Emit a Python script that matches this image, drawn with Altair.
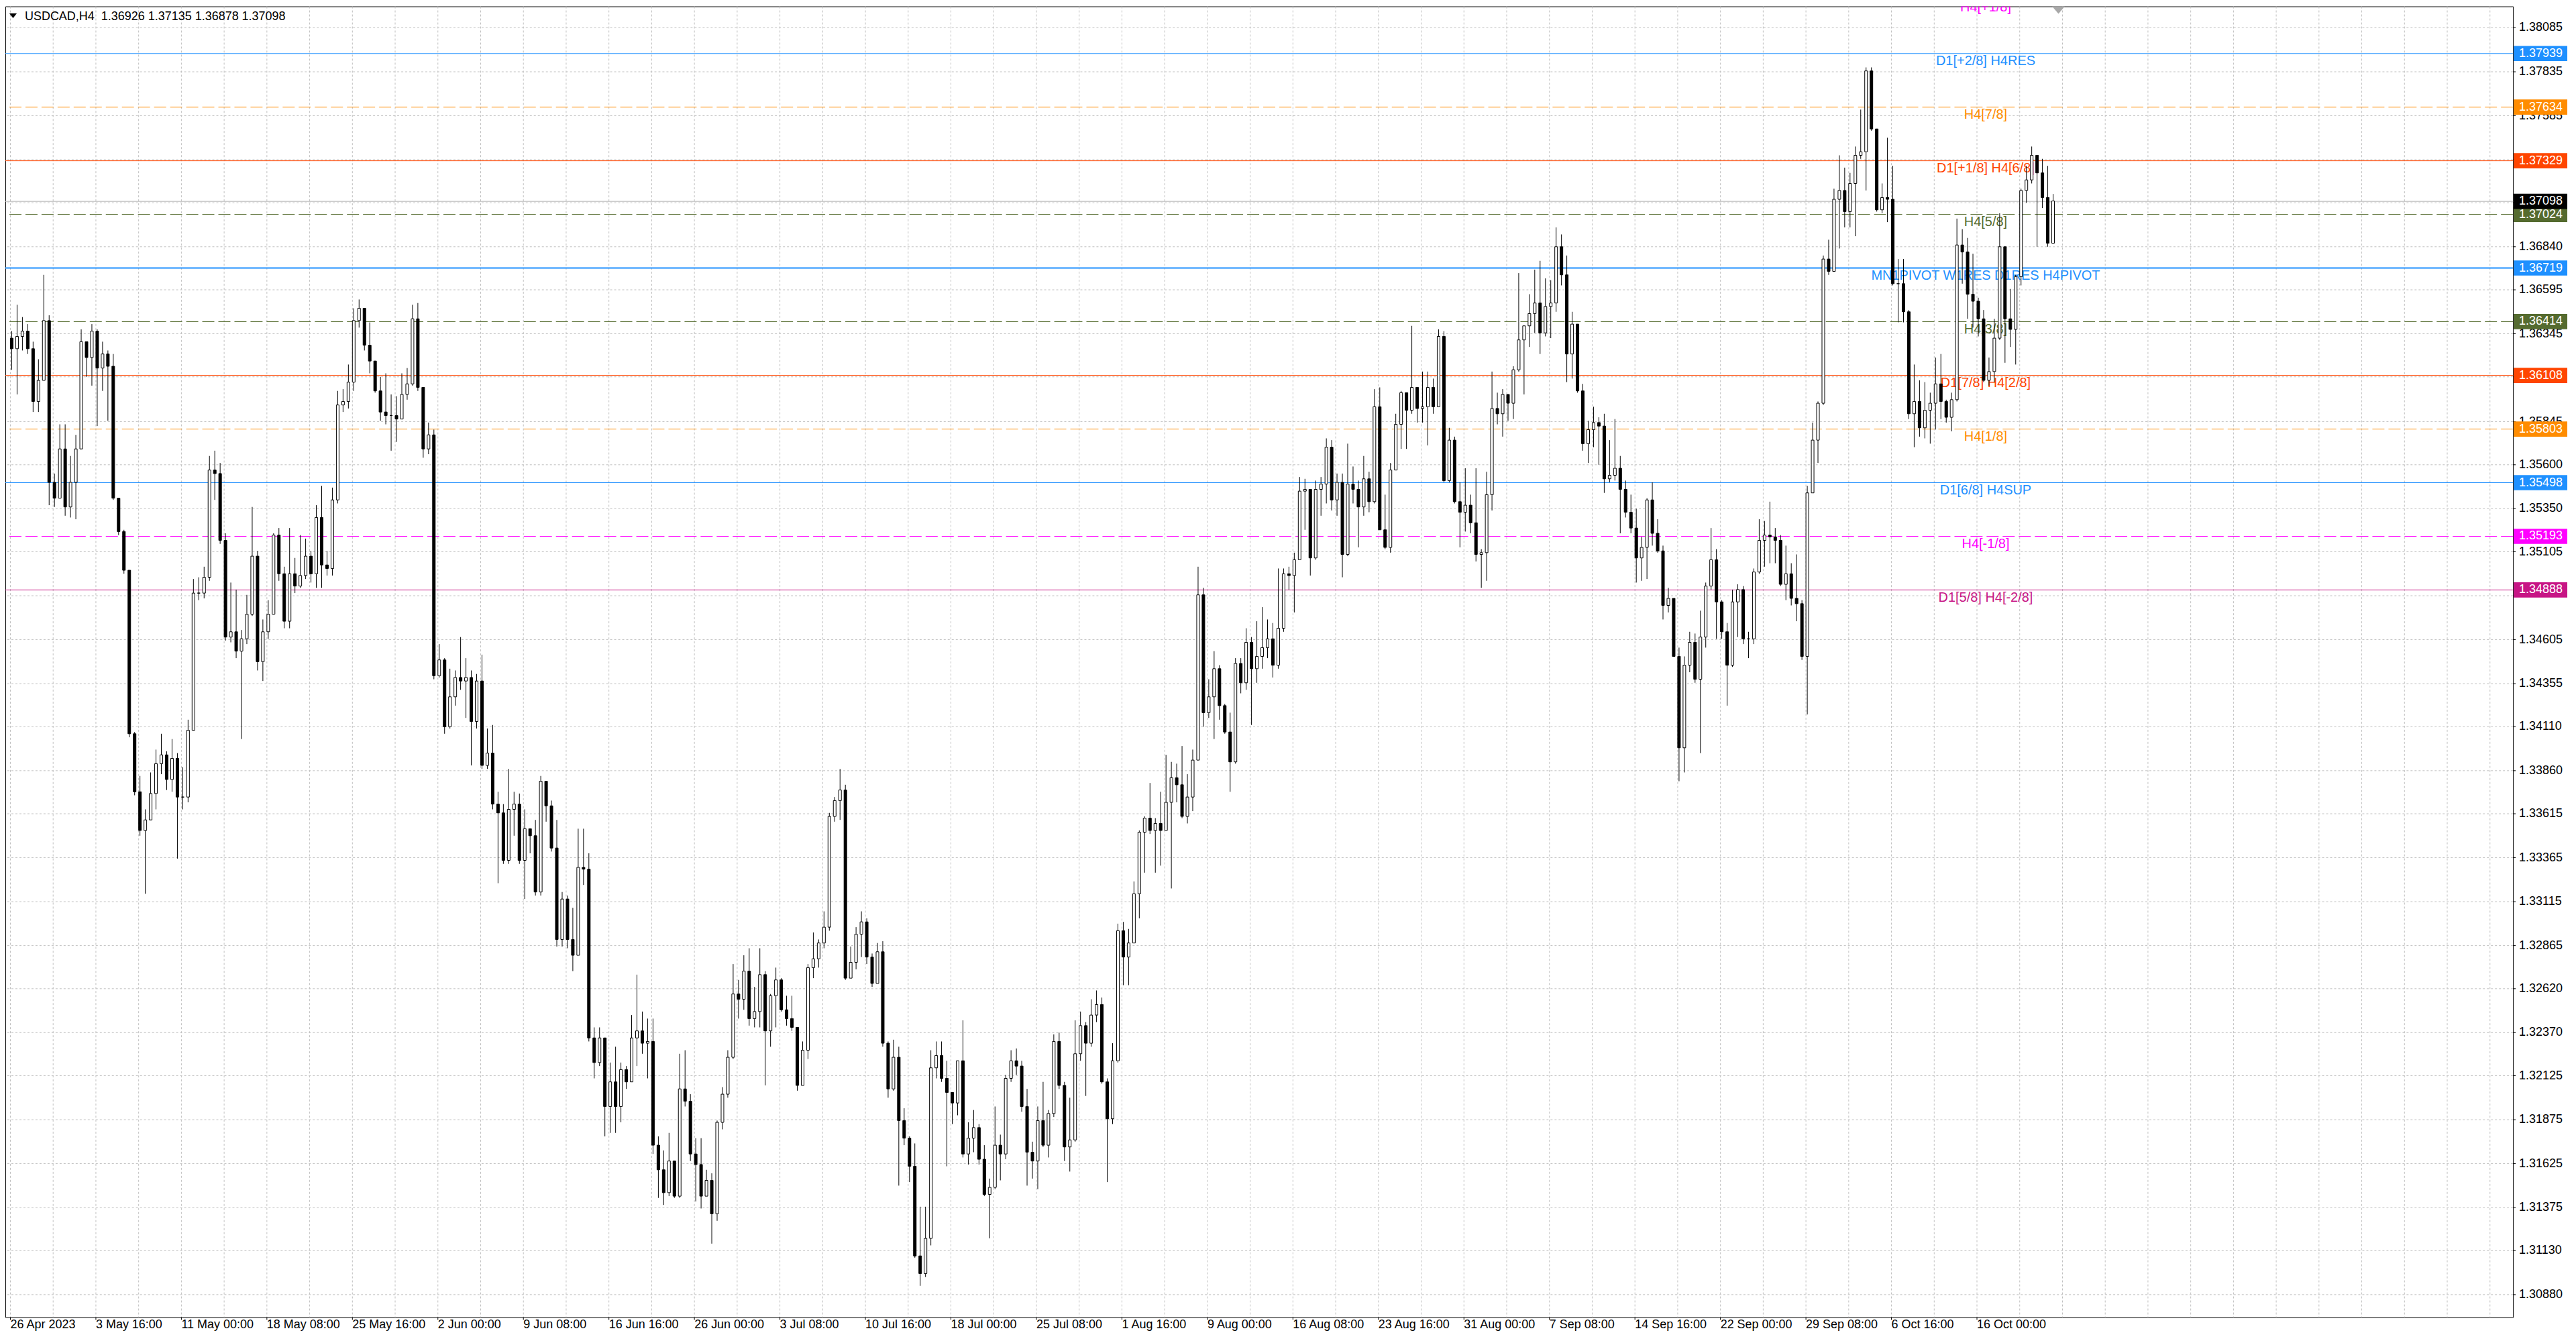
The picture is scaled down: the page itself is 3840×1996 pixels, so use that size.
import altair as alt
import numpy as np
import pandas as pd

# USDCAD H4, 26 Apr - 20 Oct 2023.
# one candle here = two H4 bars (8h); prices in pips above 1.30000
close_pips = [
    626, 633, 636, 626, 596, 608, 642, 550, 541, 569,
    536, 550, 569, 630, 621, 636, 615, 623, 616, 541,
    522, 500, 407, 374, 352, 358, 373, 390, 395, 381,
    393, 371, 371, 409, 487, 487, 496, 557, 555, 517,
    462, 465, 454, 461, 475, 508, 448, 465, 475, 520,
    498, 471, 498, 491, 497, 508, 498, 530, 503, 501,
    540, 594, 596, 607, 642, 649, 628, 619, 602, 590,
    588, 588, 586, 600, 606, 643, 604, 569, 577, 440,
    449, 411, 428, 439, 437, 439, 414, 437, 389, 396,
    367, 362, 335, 364, 367, 335, 353, 349, 317, 380,
    366, 342, 290, 313, 290, 281, 331, 330, 234, 220,
    234, 195, 209, 195, 216, 209, 234, 238, 231, 232,
    173, 159, 146, 164, 144, 205, 198, 168, 162, 144,
    153, 134, 186, 202, 223, 259, 256, 272, 245, 249,
    270, 238, 258, 267, 250, 245, 240, 207, 227, 274,
    279, 288, 297, 360, 369, 375, 268, 277, 293, 300,
    280, 265, 283, 231, 205, 223, 187, 177, 161, 110,
    100, 120, 217, 224, 211, 203, 197, 221, 168, 177,
    183, 165, 145, 149, 173, 168, 211, 221, 218, 195,
    169, 164, 187, 173, 191, 232, 207, 172, 176, 225,
    241, 231, 247, 253, 209, 188, 221, 295, 280, 288,
    316, 351, 359, 352, 356, 352, 368, 382, 378, 360,
    371, 392, 486, 419, 428, 444, 423, 408, 391, 447,
    436, 459, 444, 451, 456, 461, 446, 467, 498, 497,
    506, 545, 546, 507, 546, 549, 570, 540, 550, 509,
    549, 546, 536, 552, 539, 593, 523, 513, 557, 583,
    601, 591, 604, 592, 593, 604, 593, 633, 551, 574,
    539, 533, 537, 527, 509, 510, 543, 592, 589, 600,
    595, 614, 631, 639, 646, 652, 635, 650, 652, 684,
    668, 623, 640, 602, 572, 580, 584, 582, 552, 554,
    558, 546, 533, 524, 507, 513, 540, 521, 511, 480,
    484, 451, 399, 446, 459, 438, 462, 491, 506, 482,
    465, 446, 482, 489, 461, 461, 499, 517, 520, 519,
    517, 492, 498, 484, 481, 451, 544, 574, 595, 677,
    670, 711, 716, 704, 720, 736, 738, 784, 751, 705,
    712, 711, 663, 663, 647, 589, 596, 581, 591, 595,
    606, 596, 587, 597, 685, 681, 657, 653, 643, 608,
    613, 632, 684, 643, 637, 667, 716, 722, 736, 726,
    712, 686, 710,
]
high_pips = [
    636, 651, 644, 640, 630, 620, 668, 645, 555, 583,
    583, 565, 577, 637, 630, 640, 637, 630, 625, 623,
    540, 523, 500, 408, 383, 364, 385, 398, 407, 397,
    404, 396, 388, 415, 495, 496, 502, 565, 568, 561,
    521, 493, 489, 466, 486, 536, 511, 472, 483, 521,
    524, 502, 524, 507, 520, 518, 511, 537, 548, 511,
    547, 602, 603, 617, 649, 654, 643, 641, 617, 610,
    612, 600, 599, 612, 615, 651, 652, 604, 584, 580,
    458, 450, 444, 443, 462, 450, 443, 441, 452, 410,
    412, 374, 367, 387, 374, 373, 364, 353, 358, 383,
    380, 369, 358, 317, 315, 308, 353, 353, 339, 240,
    240, 229, 220, 229, 220, 218, 247, 270, 249, 245,
    245, 178, 170, 180, 161, 225, 227, 202, 177, 177,
    159, 157, 187, 206, 227, 276, 267, 281, 285, 263,
    285, 272, 259, 274, 268, 258, 258, 240, 232, 276,
    294, 290, 306, 362, 371, 387, 378, 286, 297, 306,
    302, 282, 288, 289, 232, 233, 229, 194, 178, 174,
    138, 138, 227, 232, 232, 221, 202, 221, 244, 186,
    193, 185, 173, 154, 195, 179, 213, 227, 228, 221,
    205, 175, 195, 209, 193, 236, 237, 209, 200, 244,
    249, 243, 256, 261, 257, 211, 231, 299, 300, 296,
    323, 352, 360, 379, 359, 374, 395, 391, 390, 400,
    384, 398, 502, 490, 438, 454, 446, 424, 419, 450,
    450, 467, 462, 471, 479, 472, 470, 501, 501, 502,
    510, 553, 552, 538, 551, 553, 575, 574, 555, 555,
    572, 559, 551, 565, 556, 603, 604, 543, 561, 589,
    602, 601, 639, 603, 613, 613, 609, 637, 636, 581,
    576, 550, 558, 543, 558, 512, 556, 613, 601, 603,
    599, 616, 669, 639, 657, 671, 676, 666, 665, 695,
    691, 679, 647, 636, 606, 585, 593, 587, 589, 574,
    586, 565, 551, 543, 535, 519, 541, 550, 529, 514,
    490, 484, 456, 451, 465, 464, 477, 493, 524, 512,
    483, 470, 489, 492, 491, 465, 501, 529, 528, 539,
    524, 520, 514, 504, 509, 483, 548, 584, 596, 679,
    688, 717, 736, 729, 726, 741, 762, 786, 786, 746,
    720, 746, 730, 677, 677, 648, 617, 608, 607, 601,
    621, 623, 597, 601, 700, 694, 689, 680, 655, 648,
    621, 643, 703, 684, 660, 668, 717, 730, 741, 736,
    734, 730, 714,
]
low_pips = [
    614, 600, 625, 623, 590, 590, 609, 537, 536, 555,
    531, 530, 529, 570, 610, 605, 582, 602, 585, 540,
    520, 498, 405, 372, 349, 316, 363, 364, 384, 375,
    374, 336, 364, 368, 436, 483, 484, 494, 540, 515,
    460, 459, 450, 404, 458, 474, 443, 437, 461, 483,
    494, 467, 467, 487, 490, 495, 493, 490, 490, 497,
    497, 538, 590, 592, 602, 638, 625, 612, 601, 585,
    583, 568, 573, 591, 597, 605, 602, 564, 566, 438,
    439, 407, 410, 423, 432, 416, 389, 410, 387, 387,
    364, 322, 333, 333, 349, 333, 313, 339, 315, 315,
    357, 340, 286, 286, 285, 272, 281, 321, 232, 211,
    218, 178, 180, 180, 186, 205, 209, 218, 225, 211,
    168, 143, 139, 144, 143, 143, 195, 164, 141, 137,
    144, 117, 130, 182, 200, 222, 245, 250, 241, 240,
    240, 207, 229, 240, 249, 241, 238, 204, 216, 222,
    268, 274, 285, 295, 357, 358, 267, 268, 273, 280,
    276, 263, 265, 229, 200, 204, 150, 173, 152, 109,
    93, 98, 116, 211, 209, 161, 185, 190, 166, 162,
    169, 162, 144, 120, 148, 153, 165, 209, 213, 192,
    150, 154, 148, 172, 166, 189, 205, 164, 158, 175,
    221, 201, 229, 243, 208, 152, 185, 220, 264, 264,
    288, 302, 328, 350, 328, 332, 352, 319, 368, 359,
    356, 363, 392, 411, 416, 404, 415, 407, 374, 390,
    430, 432, 412, 436, 444, 450, 439, 444, 465, 489,
    476, 507, 523, 497, 506, 531, 538, 534, 531, 496,
    508, 538, 513, 531, 533, 538, 523, 512, 510, 557,
    569, 569, 589, 584, 584, 571, 589, 593, 550, 550,
    538, 513, 522, 521, 505, 490, 494, 534, 583, 576,
    585, 586, 613, 600, 627, 635, 623, 633, 632, 647,
    662, 607, 609, 601, 568, 561, 570, 560, 544, 550,
    551, 521, 530, 521, 493, 494, 495, 514, 510, 472,
    476, 451, 380, 385, 442, 436, 396, 456, 489, 461,
    461, 423, 445, 462, 458, 450, 458, 498, 502, 504,
    504, 491, 483, 480, 471, 449, 418, 544, 561, 594,
    668, 679, 683, 695, 695, 690, 734, 716, 750, 704,
    703, 698, 662, 641, 641, 586, 570, 576, 575, 572,
    580, 586, 584, 579, 596, 663, 643, 638, 633, 607,
    605, 607, 631, 618, 627, 617, 662, 709, 720, 684,
    706, 684, 686,
]
first_open = 632

# date labels, one every 32 H4 bars
time_labels = [
    "26 Apr 2023", "3 May 16:00", "11 May 00:00", "18 May 08:00", "25 May 16:00",
    "2 Jun 00:00", "9 Jun 08:00", "16 Jun 16:00", "26 Jun 00:00", "3 Jul 08:00",
    "10 Jul 16:00", "18 Jul 00:00", "25 Jul 08:00", "1 Aug 16:00", "9 Aug 00:00",
    "16 Aug 08:00", "23 Aug 16:00", "31 Aug 00:00", "7 Sep 08:00", "14 Sep 16:00",
    "22 Sep 00:00", "29 Sep 08:00", "6 Oct 16:00", "16 Oct 00:00",
]

price_ticks = [
    1.38085, 1.37835, 1.37585, 1.37335, 1.37090, 1.36840, 1.36595, 1.36345,
    1.36100, 1.35845, 1.35600, 1.35350, 1.35105, 1.34855, 1.34605, 1.34355,
    1.34110, 1.33860, 1.33615, 1.33365, 1.33115, 1.32865, 1.32620, 1.32370,
    1.32125, 1.31875, 1.31625, 1.31375, 1.31130, 1.30880,
]

# murrey / pivot levels
level_prices = [1.38244, 1.37939, 1.37634, 1.37329, 1.37024, 1.36719,
                1.36414, 1.36108, 1.35803, 1.35498, 1.35193, 1.34888]
level_names = ["H4[+1/8]", "D1[+2/8] H4RES", "H4[7/8]", "D1[+1/8] H4[6/8]",
               "H4[5/8]", "MN1PIVOT W1RES D1RES H4PIVOT", "H4[3/8]",
               "D1[7/8] H4[2/8]", "H4[1/8]", "D1[6/8] H4SUP", "H4[-1/8]",
               "D1[5/8] H4[-2/8]"]
level_colors = ["#FF00FF", "#1E90FF", "#FF8C00", "#FF4500", "#556B2F", "#1E90FF",
                "#556B2F", "#FF4500", "#FF8C00", "#1E90FF", "#FF00FF", "#C71585"]
level_dashed = [True, False, True, False, True, False,
                True, False, True, False, True, False]
level_width = [1, 1, 1, 1, 1, 2, 1, 1, 1, 1, 1, 1]
label_bar = 739.25       # time anchor of the level texts (H4 bar index)
shift_bar = 766.5        # chart-shift marker

bid = 1.37098
header = "USDCAD,H4\u00a0 1.36926 1.37135 1.36878 1.37098"

W, H = 3744, 1957
FONT = "Liberation Sans"

xs = alt.Scale(domain=[-0.625, 935.375], nice=False, zero=False)
ys = alt.Scale(domain=[1.307517, 1.382069], nice=False, zero=False)

# candles
opens = [first_open] + close_pips[:-1]
df = pd.DataFrame({"o": opens, "c": close_pips, "h": high_pips, "l": low_pips})
df["h"] = df[["o", "c", "h"]].max(axis=1)
df["l"] = df[["o", "c", "l"]].min(axis=1)
for col in ["o", "c", "h", "l"]:
    df[col] = 1.3 + df[col] / 10000.0
df["bar"] = 2 * df.index + 0.5
df["fill"] = np.where(df["c"] >= df["o"], "white", "black")

levels = pd.DataFrame({"price": level_prices, "name": level_names,
                       "color": level_colors, "dashed": level_dashed,
                       "sw": level_width})
levels["bar"] = label_bar
on_chart = levels[levels["price"] < 1.382].copy()
boxes = pd.concat([on_chart[["price", "color"]],
                   pd.DataFrame({"price": [bid], "color": ["black"]})])

times = pd.DataFrame({"bar": [32 * k for k in range(len(time_labels))],
                      "label": time_labels})
ticks = pd.DataFrame({"price": price_ticks})
# the terminal hides scale labels that sit under a price box
box_p = boxes["price"].to_numpy()
shown = ticks[[np.min(np.abs(box_p - p)) > 0.00035 for p in price_ticks]]

X = lambda f: alt.X(f, type="quantitative", scale=xs, axis=None)
Y = lambda f: alt.Y(f, type="quantitative", scale=ys, axis=None)

vgrid = alt.Chart(pd.DataFrame({"bar": list(range(0, 936, 16))})).mark_rule(
    color="#c0c0c0", strokeDash=[3, 3], strokeWidth=1
).encode(x=X("bar"))

hgrid = alt.Chart(ticks).mark_rule(
    color="#c0c0c0", strokeDash=[3, 3], strokeWidth=1
).encode(y=Y("price"))

solid = alt.Chart(levels[~levels["dashed"]]).mark_rule(clip=True).encode(
    y=Y("price"),
    color=alt.Color("color:N", scale=None),
    strokeWidth=alt.StrokeWidth("sw:Q", scale=None),
)
dashed = alt.Chart(levels[levels["dashed"]]).mark_rule(
    clip=True, strokeDash=[18, 6], strokeWidth=1
).encode(y=Y("price"), color=alt.Color("color:N", scale=None))

bid_line = alt.Chart(pd.DataFrame({"price": [bid]})).mark_rule(
    color="#b4b4b4", strokeWidth=1
).encode(y=Y("price"))

level_text = alt.Chart(levels).mark_text(
    align="center", baseline="middle", dy=11.5, font=FONT, fontSize=20, clip=True
).encode(
    x=X("bar"), y=Y("price"), text="name:N",
    color=alt.Color("color:N", scale=None),
)

wicks = alt.Chart(df).mark_rule(color="black", strokeWidth=1).encode(
    x=X("bar"), y=Y("l"), y2="h:Q",
)
bodies = alt.Chart(df).mark_bar(width=4, stroke="black", strokeWidth=1).encode(
    x=X("bar"), y=Y("o"), y2="c:Q",
    fill=alt.Fill("fill:N", scale=None),
)

# price scale on the right
price_tick_marks = alt.Chart(ticks).mark_rule(color="black", strokeWidth=1).encode(
    x=alt.value(W), x2=alt.value(W + 4), y=Y("price"),
)
price_labels = alt.Chart(shown).mark_text(
    align="left", baseline="middle", font=FONT, fontSize=18, color="black"
).encode(
    x=alt.value(W + 9), y=Y("price"), text=alt.Text("price:Q", format=".5f"),
)
box_marks = alt.Chart(boxes).mark_point(
    shape="M-1,-0.284H1V0.284H-1Z", size=6400, filled=True, opacity=1, strokeWidth=0
).encode(
    x=alt.value(W + 41), y=Y("price"), fill=alt.Fill("color:N", scale=None),
)
box_text = alt.Chart(boxes).mark_text(
    align="left", baseline="middle", font=FONT, fontSize=18, color="white"
).encode(
    x=alt.value(W + 9), y=Y("price"), text=alt.Text("price:Q", format=".5f"),
)

# time scale at the bottom
time_tick_marks = alt.Chart(times).mark_rule(color="black", strokeWidth=1).encode(
    x=X("bar"), y=alt.value(H), y2=alt.value(H + 4),
)
time_text = alt.Chart(times).mark_text(
    align="left", baseline="middle", font=FONT, fontSize=18, color="black"
).encode(x=X("bar"), y=alt.value(H + 12), text="label:N")

shift_marker = alt.Chart(pd.DataFrame({"bar": [shift_bar]})).mark_point(
    shape="M-1,-0.58L1,-0.58L0,0.58Z", size=361, filled=True, opacity=1,
    strokeWidth=0, color="#a8a8a8"
).encode(x=X("bar"), y=alt.value(5.5))

head = pd.DataFrame({"t": [header]})
head_tri = alt.Chart(head).mark_point(
    shape="M-1,-0.64L1,-0.64L0,0.64Z", size=121, filled=True, opacity=1,
    strokeWidth=0, color="black"
).encode(x=alt.value(11.5), y=alt.value(14))
head_text = alt.Chart(head).mark_text(
    align="left", baseline="middle", font=FONT, fontSize=18, color="black"
).encode(x=alt.value(29), y=alt.value(15), text="t:N")

chart = alt.layer(
    vgrid, hgrid, solid, dashed, bid_line, level_text, wicks, bodies,
    price_tick_marks, price_labels, box_marks, box_text,
    time_tick_marks, time_text, shift_marker, head_tri, head_text,
).properties(
    width=W, height=H,
    autosize=alt.AutoSizeParams(type="none"),
    padding={"left": 0, "top": 0, "right": 86, "bottom": 28},
    background="white",
).configure_view(stroke="black", strokeWidth=1)

chart.save("out.html", embed_options={"renderer": "svg", "actions": False})
